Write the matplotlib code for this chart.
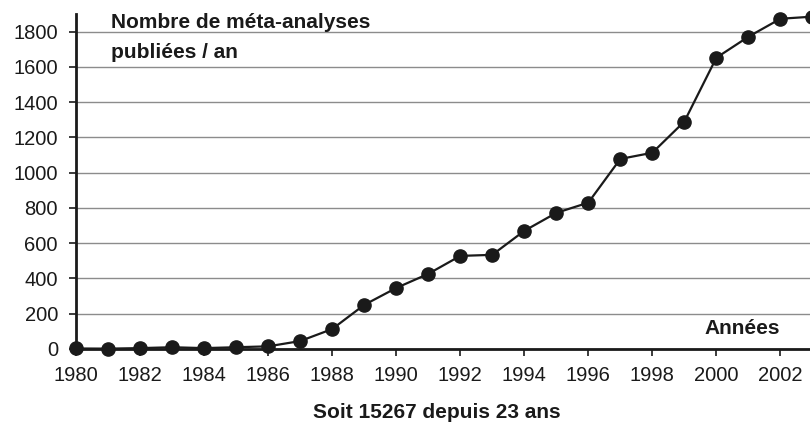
import matplotlib

matplotlib.use("Agg")
import matplotlib.pyplot as plt  # noqa: E402

plt.rcParams["font.family"] = ["Liberation Sans", "DejaVu Sans"]

years = list(range(1980, 2004))
counts = [3, 2, 5, 10, 5, 10, 15, 45, 113, 250, 346, 426, 528, 534,
          670, 772, 830, 1078, 1113, 1290, 1652, 1771, 1873, 1885]
x_ticks = list(range(1980, 2003, 2))
y_ticks = list(range(0, 1801, 200))

INK = "#1a1a1a"

fig = plt.figure(figsize=(8.1, 4.25), dpi=100)
ax = fig.add_axes([76 / 810, 76 / 425, 1 - 76 / 810 + 0.003, (349 - 14) / 425])

ax.plot(years, counts, color=INK, linewidth=1.6, marker="o",
        markersize=9.5, clip_on=False, zorder=3)

ax.set_xlim(1980, 2003)
ax.set_ylim(0, 1900)
ax.set_xticks(x_ticks)
ax.set_yticks(y_ticks)
ax.tick_params(labelsize=14.5, colors=INK, width=1.2, length=5)
ax.tick_params(axis="x", pad=7)
ax.tick_params(axis="y", pad=8)
ax.grid(axis="y", color="#8c8c8c", linewidth=1)
ax.set_axisbelow(True)
ax.spines[["top", "right"]].set_visible(False)
for side in ("left", "bottom"):
    ax.spines[side].set_linewidth(2)
    ax.spines[side].set_color(INK)

label_style = dict(fontsize=15, fontweight="bold", color=INK, va="center")
fig.text(111 / 810, 1 - 22 / 425, "Nombre de méta-analyses", ha="left", **label_style)
fig.text(111 / 810, 1 - 53 / 425, "publiées / an", ha="left", **label_style)
fig.text(780 / 810, 1 - 329 / 425, "Années", ha="right", **label_style)
fig.text(437 / 810, 1 - 412 / 425, "Soit 15267 depuis 23 ans", ha="center", **label_style)

fig.savefig("out.png", dpi=100, facecolor="white")
